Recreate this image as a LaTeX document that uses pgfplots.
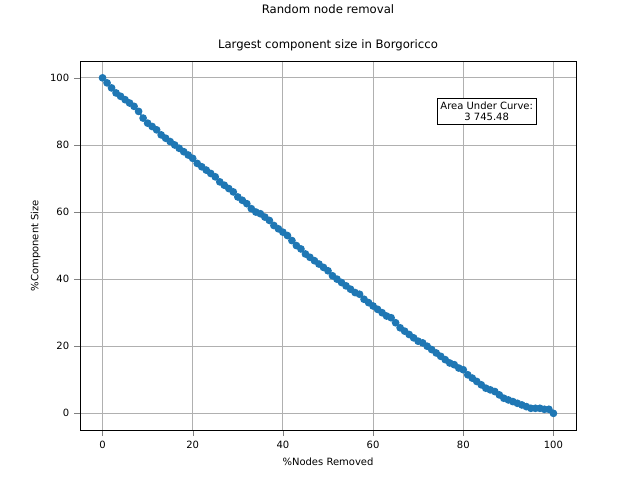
\documentclass[border=0pt]{standalone}
\usepackage{pgfplots}
\pgfplotsset{compat=1.18}
\usepackage{fontspec}
\setmainfont{DejaVu Sans}
\definecolor{tabblue}{HTML}{1F77B4}
\begin{document}
\begin{tikzpicture}
\begin{axis}[name=ax, scale only axis, width=357.1pt, height=265.7pt,
  xmin=-5, xmax=105, ymin=-5, ymax=105,
  xtick={0,20,...,100}, ytick={0,20,...,100},
  tick align=outside, tick pos=lower,
  grid=major, grid style={color=black!31, line width=0.6pt},
  /pgf/number format/assume math mode=true,
  ticklabel style={font=\fontsize{7.2}{8}\selectfont},
  label style={font=\fontsize{7.2}{8}\selectfont},
  xlabel={\%Nodes Removed}, ylabel={\%Component Size},
  title style={font=\fontsize{8.4}{10}\selectfont, yshift=-2pt},
  title={Largest component size in Borgoricco}]
\addplot[color=tabblue, line width=1.1pt, mark=*, mark size=2.2pt, mark options={fill=tabblue, draw=tabblue}] coordinates {
(0,100)(1,98.5)(2,97)(3,95.5)(4,94.5)(5,93.5)(6,92.5)(7,91.5)(8,90)(9,88)(10,86.5)(11,85.5)(12,84.5)(13,83)(14,82)(15,81)(16,80)(17,79)(18,78)(19,77)(20,76)(21,74.5)(22,73.5)(23,72.5)(24,71.5)(25,70.5)(26,69)(27,68)(28,67)(29,66)(30,64.5)(31,63.5)(32,62.5)(33,61)(34,60)(35,59.5)(36,58.5)(37,57.5)(38,56)(39,55)(40,54)(41,53)(42,51.5)(43,50)(44,49)(45,47.5)(46,46.5)(47,45.5)(48,44.5)(49,43.5)(50,42.5)(51,41)(52,40)(53,39)(54,38)(55,37)(56,36)(57,35.5)(58,34)(59,33)(60,32)(61,31)(62,30)(63,29)(64,28.5)(65,27)(66,25.5)(67,24.5)(68,23.5)(69,22.5)(70,21.5)(71,21)(72,20)(73,19)(74,18)(75,17)(76,16)(77,15)(78,14.5)(79,13.5)(80,13)(81,11.5)(82,10.5)(83,9.5)(84,8.5)(85,7.5)(86,7)(87,6.5)(88,5.5)(89,4.5)(90,4)(91,3.5)(92,3)(93,2.5)(94,2)(95,1.5)(96,1.5)(97,1.5)(98,1.2)(99,1.2)(100,0)};
\node[draw=black, fill=white, align=center, font=\fontsize{7.2}{8.5}\selectfont, inner sep=2.5pt] at (rel axis cs:0.82,0.864) {Area Under Curve:\\3 745.48};
\end{axis}
\node[font=\fontsize{8.4}{10}\selectfont] at ([yshift=37.4pt]ax.north) {Random node removal};
\path[use as bounding box] ([shift={(-57.6pt,-38.2pt)}]ax.south west) rectangle ++(460.8pt,345.6pt);
\end{tikzpicture}
\end{document}
